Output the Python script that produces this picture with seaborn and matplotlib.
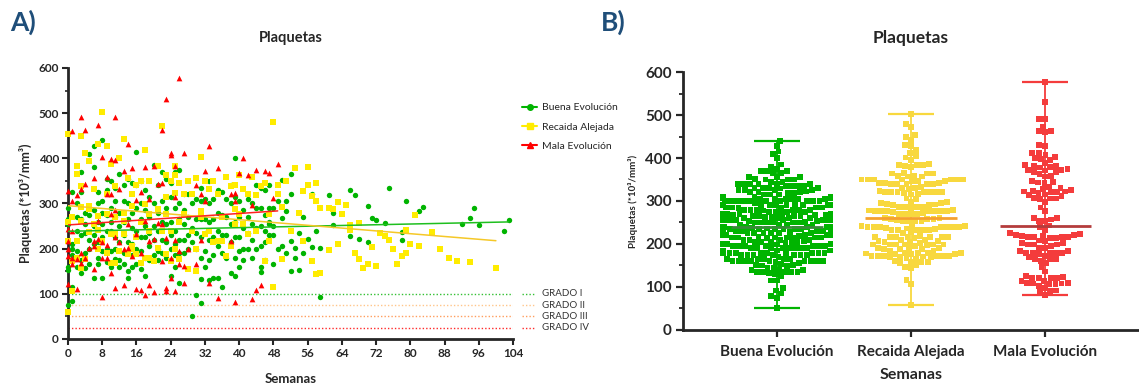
import pandas as pd
import matplotlib
matplotlib.use("Agg")
import matplotlib.pyplot as plt
import matplotlib.transforms as mtransforms
from matplotlib.lines import Line2D
from matplotlib.ticker import MultipleLocator
import seaborn as sns

sns.set_theme(style="ticks")
plt.rcParams['font.family'] = ['Lato', 'DejaVu Sans']

grupos = ["Buena Evolución", "Recaida Alejada", "Mala Evolución"]

# --- Buena Evolución: semana de control y recuentos de plaquetas en esa semana ---
semanas_buena = [0, 1, 2, 3, 4, 5, 6, 7, 8, 9, 10, 11, 12, 13, 14, 15, 16, 17, 18, 19,
                 20, 21, 22, 23, 24, 25, 26, 27, 28, 29, 30, 31, 32, 33, 34, 35, 36, 37,
                 38, 39, 40, 41, 42, 43, 44, 45, 46, 47, 48, 49, 50, 51, 52, 53, 54, 55,
                 56, 57, 58, 59, 61, 62, 66, 67, 68, 70, 71, 72, 74, 75, 78, 79, 82, 83,
                 92, 94, 95, 96, 102, 103]
plaquetas_buena = [
    [290, 265, 255, 152, 75, 160], [325, 200, 115, 85, 185, 210],
    [300, 270, 195, 240, 160], [370, 325, 265, 230, 145, 175],
    [280, 255, 235, 190, 158], [410, 275, 220, 200, 165],
    [428, 380, 285, 250, 230, 135, 210], [325, 300, 260, 215, 180, 165],
    [440, 305, 280, 255, 225, 195, 135], [355, 330, 275, 240, 200, 170],
    [350, 290, 260, 240, 195, 160], [335, 305, 270, 225, 200, 178],
    [365, 280, 250, 215, 175, 160], [340, 305, 260, 230, 190, 165],
    [355, 300, 265, 215, 150, 135], [345, 280, 245, 210, 185, 160],
    [415, 340, 290, 240, 200, 165], [350, 300, 265, 225, 195, 155],
    [330, 285, 250, 225, 180, 140], [315, 270, 235, 205, 175],
    [385, 300, 250, 220, 185], [340, 280, 240, 200, 175, 195],
    [370, 305, 260, 220, 190], [355, 290, 255, 215, 180],
    [345, 315, 260, 230, 200, 140], [370, 290, 240, 210, 185, 160],
    [375, 300, 265, 220, 190, 125], [320, 285, 255, 220, 190],
    [320, 270, 230, 200], [300, 245, 215, 52],
    [310, 265, 235, 200, 98], [335, 305, 265, 225, 180, 132, 80],
    [310, 265, 235, 195, 160], [350, 300, 260, 220, 175, 130],
    [310, 265, 225, 185, 135], [330, 280, 240, 205, 135],
    [325, 275, 230, 190, 115], [310, 270, 230, 180],
    [340, 300, 255, 215, 145], [400, 315, 260, 225, 180, 140],
    [305, 270, 225, 195, 160], [285, 245, 200, 175],
    [310, 270, 235, 200], [300, 255, 220, 180],
    [340, 290, 245, 200], [335, 290, 250, 205, 160, 148],
    [330, 275, 240, 215, 175], [340, 290, 255, 230, 260],
    [290, 250, 230, 166], [306, 199], [351, 267, 206], [306, 283, 190],
    [365, 320, 217, 151], [202, 180], [153, 234], [190, 269],
    [221], [322, 204], [239], [202, 92], [318], [278, 253],
    [329, 227], [319], [221], [295, 214], [267], [263], [256], [334],
    [236, 219], [306], [284], [293], [254], [267], [291], [252], [238], [263],
]

# --- Recaida Alejada ---
semanas_recaida = [0, 1, 2, 3, 4, 5, 6, 7, 8, 9, 10, 11, 12, 13, 14, 15, 16, 17, 18, 19,
                   20, 21, 22, 23, 24, 25, 26, 27, 28, 29, 30, 31, 32, 33, 34, 35, 36, 37,
                   38, 39, 40, 41, 42, 43, 44, 45, 46, 47, 48, 49, 50, 51, 52, 53, 54, 55,
                   56, 57, 58, 59, 61, 62, 63, 64, 65, 66, 67, 68, 69, 70, 71, 72, 73, 74,
                   75, 76, 77, 78, 79, 80, 81, 82, 85, 87, 89, 91, 94, 100]
plaquetas_recaida = [
    [453, 59, 217, 258], [107, 173, 269], [383, 366, 217, 180],
    [449, 339, 292, 158, 261], [411, 177], [395, 295, 236, 287],
    [333, 254], [431, 241, 199, 272], [502, 217], [427, 320, 191, 276],
    [387, 169, 232], [339, 232, 169, 269], [401, 195], [442, 261, 232, 280],
    [357, 188], [320, 199, 206, 295], [342, 225, 188], [350, 169, 258],
    [418, 298, 180], [350, 180, 239, 276], [173], [383, 202, 287],
    [472, 239], [364, 315, 188, 276], [350, 173, 239], [383, 364, 324, 199],
    [346, 177, 258], [320, 276], [350, 155], [320, 239], [357, 151, 199],
    [404, 283, 269], [350, 232], [331, 239], [350, 214], [320, 216],
    [269, 217], [359, 184], [339, 206], [342, 254, 287], [364, 276],
    [331, 254], [320, 232], [359], [318, 239], [339], [346, 173],
    [217, 276], [480, 116], [342, 320], [293, 177], [350], [239], [379],
    [278], [328, 217], [381, 340], [317, 173], [346, 306, 144], [147, 291],
    [291, 197], [287], [304, 210], [276], [297], [253, 241], [190],
    [178, 256], [158], [166], [204], [161], [234], [227], [219], [199],
    [167], [183], [190, 241], [210], [275], [205], [237], [199], [179],
    [173], [171], [158],
]

# --- Mala Evolución ---
semanas_mala = [0, 1, 2, 3, 4, 5, 6, 7, 8, 9, 10, 11, 12, 13, 14, 15, 16, 17, 18, 19,
                20, 21, 22, 23, 24, 25, 26, 27, 28, 30, 31, 32, 33, 35, 38, 39, 40, 41,
                42, 43, 44, 45, 46, 47, 48, 49]
plaquetas_mala = [
    [328, 243, 217, 199, 183, 121], [460, 305, 239, 180, 166], [318, 177, 110],
    [491, 331, 191, 169], [462, 344, 180], [202], [357, 217, 206, 155],
    [473, 261, 221], [403, 214, 180, 92], [358, 320, 180, 208],
    [398, 322, 147, 276], [491, 396, 285, 225, 114], [333, 214],
    [373, 199, 120], [431, 254, 202], [378, 184], [307, 232, 110],
    [325, 191, 108], [381, 261, 98], [311, 217, 120], [382, 103, 221],
    [343, 257], [462, 346, 254, 173], [531, 114, 107, 223],
    [412, 407, 180, 136], [384, 315, 219, 107], [577, 195, 166],
    [411, 161, 123], [199], [342, 166], [322, 219], [371, 306],
    [427, 125], [379, 90], [320, 216], [323, 306, 81], [367], [400],
    [362], [297, 88], [374, 108], [120], [372], [367], [313], [388],
]

grados = ["GRADO I", "GRADO II", "GRADO III", "GRADO IV"]
limites_grado = [100, 75, 50, 25]

# Long table: one row per measurement
filas = []
for grupo, semanas, valores in zip(grupos,
                                   [semanas_buena, semanas_recaida, semanas_mala],
                                   [plaquetas_buena, plaquetas_recaida, plaquetas_mala]):
    for s, vals in zip(semanas, valores):
        for v in vals:
            filas.append((grupo, s, v))
df = pd.DataFrame(filas, columns=["Grupo", "Semanas", "Plaquetas"])

# Styles
col_A = {"Buena Evolución": "#00b400", "Recaida Alejada": "#ffec00", "Mala Evolución": "#ff0000"}
col_fit = {"Buena Evolución": "#1fbf1f", "Recaida Alejada": "#f5c828", "Mala Evolución": "#ff2020"}
mark_A = {"Buena Evolución": "o", "Recaida Alejada": "s", "Mala Evolución": "^"}
size_A = {"Buena Evolución": 15, "Recaida Alejada": 14, "Mala Evolución": 17}
col_B = {"Buena Evolución": "#00b400", "Recaida Alejada": "#f8d83e", "Mala Evolución": "#f43c3c"}
col_med = {"Buena Evolución": "#3a8a3a", "Recaida Alejada": "#f5a030", "Mala Evolución": "#b43c3c"}
col_grado = ["#33c033", "#ffc68a", "#ff9e5e", "#ff2a2a"]
azul = "#1f4e79"

fig = plt.figure(figsize=(11.39, 3.83), dpi=100)

# ---------------- Panel A: scatter over time ----------------
axA = fig.add_axes([0.0597, 0.1149, 0.3907, 0.7076])
for grupo in grupos:
    sub = df[df["Grupo"] == grupo]
    sns.scatterplot(data=sub, x="Semanas", y="Plaquetas", marker=mark_A[grupo],
                    color=col_A[grupo], s=size_A[grupo], linewidth=0,
                    ax=axA, legend=False, zorder=3)
for grupo in grupos:
    sub = df[df["Grupo"] == grupo]
    sns.regplot(data=sub, x="Semanas", y="Plaquetas", scatter=False, ci=None,
                truncate=True, color=col_fit[grupo], line_kws=dict(lw=1.1, zorder=4), ax=axA)
for c in axA.collections:
    c.set_clip_on(False)

trans = mtransforms.blended_transform_factory(axA.transAxes, axA.transData)
for nombre, lim, c in zip(grados, limites_grado, col_grado):
    axA.axhline(lim, color=c, ls=(0, (1, 1.5)), lw=1.0, zorder=1)
    axA.plot([1.02, 1.05], [lim, lim], transform=trans, color=c, ls=(0, (1, 1.5)),
             lw=1.0, clip_on=False)
    axA.text(1.066, lim, nombre, transform=trans, fontsize=7, va="center", ha="left",
             color="#333333")

handles = [Line2D([0], [0], color=col_A[g], marker=mark_A[g], markersize=4, lw=1.5)
           for g in grupos]
axA.legend(handles, grupos, loc="upper left", bbox_to_anchor=(1.0, 0.905), frameon=False,
           fontsize=7.5, handlelength=1.4, handletextpad=0.5, labelspacing=0.95)

axA.set_xlim(0, 104)
axA.set_ylim(0, 600)
axA.xaxis.set_major_locator(MultipleLocator(8))
axA.yaxis.set_major_locator(MultipleLocator(100))
axA.yaxis.set_minor_locator(MultipleLocator(50))
axA.tick_params(axis="both", which="major", width=1.5, length=4.5, labelsize=8.5, pad=2)
axA.tick_params(axis="y", which="minor", width=1.2, length=2.5)
for lab in axA.get_xticklabels() + axA.get_yticklabels():
    lab.set_fontweight("bold")
for side in ["top", "right"]:
    axA.spines[side].set_visible(False)
for side in ["left", "bottom"]:
    axA.spines[side].set_linewidth(2)
axA.set_xlabel("Semanas", fontsize=9.5, fontweight="bold", labelpad=10)
axA.set_ylabel("Plaquetas (*10³/mm³)", fontsize=9, fontweight="bold", labelpad=5)
axA.text(0.5, 1.11, "Plaquetas", transform=axA.transAxes, ha="center", va="center",
         fontsize=10.5, fontweight="bold")

# ---------------- Panel B: distribution per group ----------------
axB = fig.add_axes([0.5997, 0.1384, 0.4003, 0.6736])
sns.swarmplot(data=df, x="Grupo", y="Plaquetas", order=grupos, hue="Grupo",
              hue_order=grupos, palette=col_B, marker="s", size=4.2, linewidth=0,
              legend=False, ax=axB, warn_thresh=1.0)
for i, grupo in enumerate(grupos):
    vals = df.loc[df["Grupo"] == grupo, "Plaquetas"]
    lo, hi, med = vals.min(), vals.max(), vals.median()
    axB.vlines(i, lo, hi, color=col_B[grupo], lw=1.3, zorder=4)
    axB.hlines([lo, hi], i - 0.17, i + 0.17, color=col_B[grupo], lw=1.6, zorder=4)
    axB.hlines(med, i - 0.34, i + 0.34, color=col_med[grupo], lw=2.0, zorder=5)

axB.set_xlim(-0.7, 2.7)
axB.set_ylim(0, 600)
axB.yaxis.set_major_locator(MultipleLocator(100))
axB.yaxis.set_minor_locator(MultipleLocator(50))
axB.tick_params(axis="both", which="major", width=1.6, length=5, labelsize=11, pad=3)
axB.tick_params(axis="x", which="major", pad=6)
axB.tick_params(axis="y", which="minor", width=1.3, length=3)
for lab in axB.get_xticklabels() + axB.get_yticklabels():
    lab.set_fontweight("bold")
for side in ["top", "right"]:
    axB.spines[side].set_visible(False)
for side in ["left", "bottom"]:
    axB.spines[side].set_linewidth(2)
axB.set_xlabel("Semanas", fontsize=11.5, fontweight="bold", labelpad=6)
axB.set_ylabel("Plaquetas (*10³/mm³)", fontsize=7, fontweight="bold", labelpad=5)
axB.text(0.5, 1.13, "Plaquetas", transform=axB.transAxes, ha="center", va="center",
         fontsize=12.5, fontweight="bold")

fig.text(10 / 1139, 1 - 22 / 383, "A)", fontsize=19, fontweight="bold", color=azul,
         ha="left", va="center")
fig.text(601 / 1139, 1 - 22 / 383, "B)", fontsize=19, fontweight="bold", color=azul,
         ha="left", va="center")

fig.savefig("out.png", dpi=100, facecolor="white")
